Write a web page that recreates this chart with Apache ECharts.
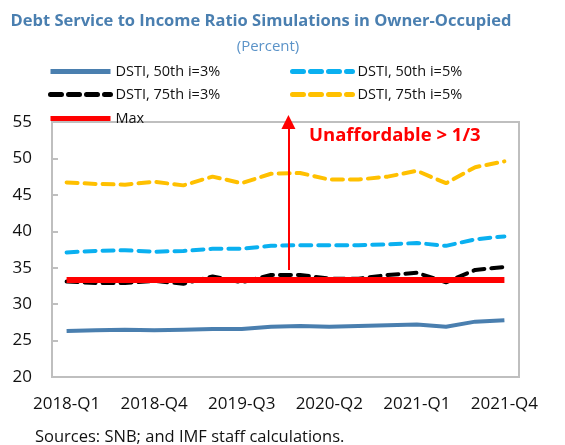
<!DOCTYPE html>
<html style="height: 100%">
<head>
<meta charset="utf-8">
<script src="https://cdn.jsdelivr.net/npm/echarts@6/dist/echarts.min.js"></script>
</head>
<body style="height: 100%; margin: 0; background: #fff">
<div id="container" style="width: 565px; height: 445px"></div>
<script type="text/javascript">
// quarters
var quarters = ['2018-Q1', '2018-Q2', '2018-Q3', '2018-Q4', '2019-Q1', '2019-Q2', '2019-Q3', '2019-Q4',
                '2020-Q1', '2020-Q2', '2020-Q3', '2020-Q4', '2021-Q1', '2021-Q2', '2021-Q3', '2021-Q4'];
var dsti50_3 = [26.3, 26.4, 26.5, 26.4, 26.5, 26.6, 26.6, 26.9, 27.0, 26.9, 27.0, 27.1, 27.2, 26.9, 27.6, 27.8];
var dsti50_5 = [37.1, 37.3, 37.4, 37.2, 37.3, 37.6, 37.6, 38.0, 38.1, 38.1, 38.1, 38.2, 38.4, 38.0, 38.9, 39.3];
var dsti75_3 = [33.1, 32.9, 32.9, 33.2, 32.8, 33.8, 33.0, 34.0, 34.0, 33.5, 33.5, 34.0, 34.3, 33.0, 34.7, 35.1];
var dsti75_5 = [46.7, 46.5, 46.4, 46.8, 46.3, 47.5, 46.6, 47.9, 48.0, 47.1, 47.1, 47.5, 48.3, 46.6, 48.8, 49.6];
var maxLine = quarters.map(function () { return 33.33; });
var arrowX = 7.6;           // between 2019-Q4 and 2020-Q1
var arrowFrom = 34.7, arrowTo = 55;

var myChart = echarts.init(document.getElementById('container'));
var font = '"Open Sans", "Noto Sans", sans-serif';

function legendAt(name, left, top) {
    return {
        data: [name], left: left, top: top,
        itemWidth: 60, itemHeight: 10, itemGap: 5,
        itemStyle: { opacity: 0 },
        lineStyle: { width: 5 },
        textStyle: { fontFamily: font, fontSize: 14.5, color: '#111' }
    };
}

var option = {
    animation: false,
    title: [{
        text: 'Debt Service to Income Ratio Simulations in Owner-Occupied',
        left: 256, top: 8, textAlign: 'center',
        textStyle: { fontFamily: font, fontSize: 16.5, fontWeight: 'bold', color: '#4A7FB0' }
    }, {
        text: '(Percent)',
        left: 263, top: 34, textAlign: 'center',
        textStyle: { fontFamily: font, fontSize: 15, fontWeight: 'normal', color: '#5B93C8' }
    }, {
        text: 'Sources: SNB; and IMF staff calculations.',
        left: 30, top: 424,
        textStyle: { fontFamily: font, fontSize: 16.5, fontWeight: 'normal', color: '#111' }
    }],
    legend: [
        legendAt('DSTI, 50th i=3%', 43, 59),
        legendAt('DSTI, 50th i=5%', 285, 59),
        legendAt('DSTI, 75th i=3%', 43, 82),
        legendAt('DSTI, 75th i=5%', 285, 82),
        legendAt('Max', 43, 106)
    ],
    grid: {
        left: 52, right: 46, top: 122, bottom: 68,
        show: true, borderColor: '#BFBFBF', borderWidth: 2
    },
    xAxis: [{
        type: 'category',
        data: quarters,
        axisLine: { lineStyle: { color: '#BFBFBF', width: 2 } },
        axisTick: { inside: true, length: 6, interval: 0, lineStyle: { color: '#BFBFBF', width: 2 } },
        axisLabel: { interval: 2, margin: 19, fontFamily: font, fontSize: 17, color: '#111' },
        splitLine: { show: false }
    }, {
        type: 'value', min: -0.5, max: 15.5, show: false
    }],
    yAxis: {
        type: 'value', min: 20, max: 55, interval: 5,
        axisLine: { show: true, onZero: false, lineStyle: { color: '#BFBFBF', width: 2 } },
        axisTick: { show: true, inside: true, length: 6, lineStyle: { color: '#BFBFBF', width: 2 } },
        axisLabel: { margin: 20, fontFamily: font, fontSize: 17, color: '#111' },
        splitLine: { show: false }
    },
    series: [{
        name: 'DSTI, 50th i=3%', type: 'line', data: dsti50_3, symbol: 'none',
        itemStyle: { color: '#4A7FAF' },
        lineStyle: { color: '#4A7FAF', width: 4 }
    }, {
        name: 'DSTI, 50th i=5%', type: 'line', data: dsti50_5, symbol: 'none',
        itemStyle: { color: '#0AB0F0' },
        lineStyle: { color: '#0AB0F0', width: 4, type: [11, 7], cap: 'round' }
    }, {
        name: 'DSTI, 75th i=3%', type: 'line', data: dsti75_3, symbol: 'none',
        itemStyle: { color: '#000' },
        lineStyle: { color: '#000', width: 4, type: [11, 7], cap: 'round' }
    }, {
        name: 'DSTI, 75th i=5%', type: 'line', data: dsti75_5, symbol: 'none',
        itemStyle: { color: '#FFC000' },
        lineStyle: { color: '#FFC000', width: 4, type: [11, 7], cap: 'round' }
    }, {
        name: 'Max', type: 'line', data: maxLine, symbol: 'none',
        itemStyle: { color: '#FF0000' },
        lineStyle: { color: '#FF0000', width: 6 }
    }, {
        // arrow marking the unaffordable zone
        type: 'line', xAxisIndex: 1, data: [], symbol: 'none', silent: true,
        markLine: {
            silent: true, symbol: ['none', 'triangle'], symbolSize: [14, 14],
            label: { show: false },
            lineStyle: { color: '#FF0000', width: 2, type: 'solid' },
            data: [[{ coord: [arrowX, arrowFrom] }, { coord: [arrowX, arrowTo] }]]
        }
    }],
    graphic: [{
        type: 'text', left: 309, top: 126,
        style: { text: 'Unaffordable > 1/3', fill: '#FF0000', font: 'bold 18.5px ' + font }
    }]
};
myChart.setOption(option);
</script>
</body>
</html>
